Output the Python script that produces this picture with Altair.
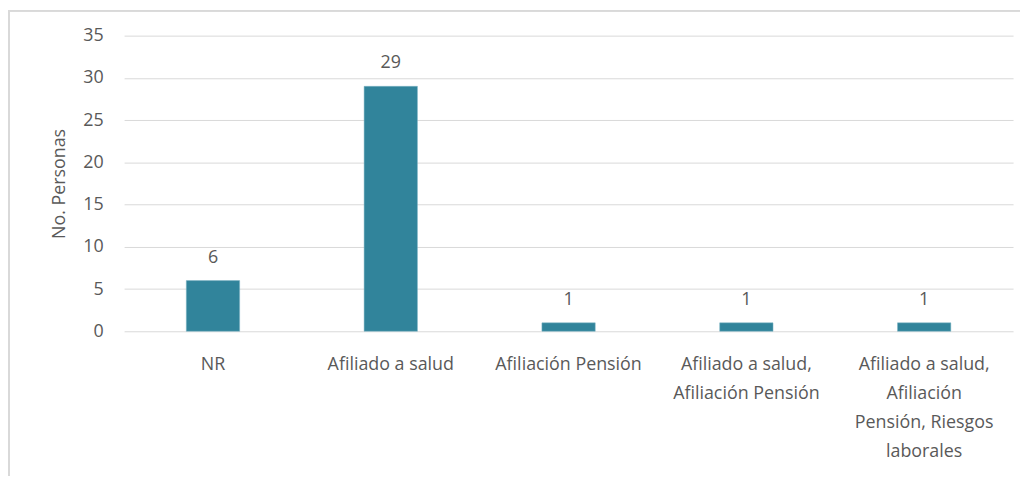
import altair as alt
import pandas as pd

categories = [
    "NR",
    "Afiliado a salud",
    "Afiliación Pensión",
    "Afiliado a salud,\nAfiliación Pensión",
    "Afiliado a salud,\nAfiliación\nPensión, Riesgos\nlaborales",
]
values = [6, 29, 1, 1, 1]
y_ticks = [0, 5, 10, 15, 20, 25, 30, 35]

df = pd.DataFrame({"cat": categories, "val": values})

FONT = "Open Sans"
FS = 18
TXT = "#595959"
BAR = "#31849B"

x_enc = alt.X(
    "cat:N",
    sort=categories,
    title=None,
    scale=alt.Scale(paddingInner=0.7, paddingOuter=0.35),
    axis=alt.Axis(
        labelExpr="split(datum.value, '\\n')",
        labelAngle=0,
        labelFont=FONT,
        labelFontSize=FS,
        labelColor=TXT,
        labelLineHeight=29,
        labelPadding=25,
        labelBaseline="top",
        ticks=False,
        domain=False,
        grid=False,
        labelLimit=300,
    ),
)
y_enc = alt.Y(
    "val:Q",
    title="No. Personas",
    scale=alt.Scale(domain=[0, 35], nice=False),
    axis=alt.Axis(
        values=y_ticks,
        labelFont=FONT,
        labelFontSize=FS,
        labelColor=TXT,
        labelPadding=21,
        ticks=False,
        domain=False,
        gridColor="#d9d9d9",
        gridWidth=1,
        titleFont=FONT,
        titleFontSize=FS,
        titleFontWeight="normal",
        titleColor=TXT,
        titlePadding=14,
    ),
)

frame = alt.Chart(df).mark_rect(
    fill=None, stroke="#d9d9d9", strokeWidth=1.5, clip=False
).encode(
    x=alt.value(-116), x2=alt.value(1200), y=alt.value(-25), y2=alt.value(800)
)

bars = alt.Chart(df).mark_bar(color=BAR, stroke="#7fb6c6", strokeWidth=0.5).encode(
    x=x_enc, y=y_enc
)

labels = alt.Chart(df).mark_text(
    font=FONT, fontSize=FS, color=TXT, dy=-14, baseline="bottom"
).encode(
    x=alt.X("cat:N", sort=categories),
    y="val:Q",
    text="val:Q",
)

chart = (
    alt.layer(frame, bars, labels)
    .properties(
        width=896,
        height=298,
        autosize=alt.AutoSizeParams(type="none"),
        padding={"left": 117, "top": 26, "right": 7, "bottom": 144},
        background="white",
    )
    .configure_view(stroke=None)
)

chart.save("out.html", embed_options={"renderer": "svg", "actions": False})
